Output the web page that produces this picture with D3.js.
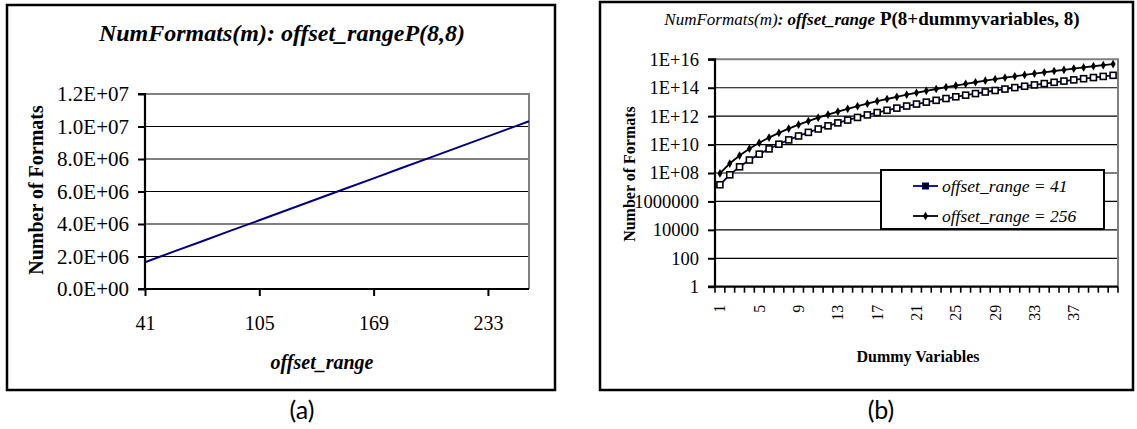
<!DOCTYPE html>
<html><head><meta charset="utf-8">
<script src="https://cdn.jsdelivr.net/npm/d3@7"></script>
<style>
html,body{margin:0;padding:0;background:#fff;}
svg{display:block;}
text{font-family:"Liberation Serif","Times New Roman",serif;fill:#000;}
</style></head>
<body>
<svg id="c" width="1137" height="429"></svg>
<script>
// ---------- Data: chart (a) ----------
const aOffsetRange = [41, 57, 73, 89, 105, 121, 137, 153, 169, 185, 201, 217, 233, 249, 256];
const aNumFormats  = [1.65e6, 2.30e6, 2.94e6, 3.59e6, 4.23e6, 4.88e6, 5.52e6, 6.17e6, 6.81e6, 7.46e6, 8.10e6, 8.75e6, 9.39e6, 10.04e6, 10.32e6];
const aYTicks  = [0, 2e6, 4e6, 6e6, 8e6, 1e7, 1.2e7];
const aYLabels = ["0.0E+00","2.0E+06","4.0E+06","6.0E+06","8.0E+06","1.0E+07","1.2E+07"];
const aXTicks  = [41, 105, 169, 233];

// ---------- Data: chart (b) ----------
const bDummy = d3.range(1, 42); // categories 1..41
const bSeries41 = [1.49e7,7.44e7,2.73e8,8.18e8,2.13e9,4.96e9,1.06e10,2.13e10,4.02e10,7.23e10,
  1.25e11,2.08e11,3.36e11,5.29e11,8.11e11,1.22e12,1.79e12,2.58e12,3.67e12,5.14e12,
  7.10e12,9.68e12,1.30e13,1.74e13,2.30e13,3.00e13,3.89e13,5.00e13,6.38e13,8.08e13,
  1.02e14,1.27e14,1.58e14,1.95e14,2.40e14,2.93e14,3.56e14,4.31e14,5.20e14,6.24e14,7.46e14];
const bSeries256 = [9.29e7,4.64e8,1.70e9,5.11e9,1.33e10,3.10e10,6.64e10,1.33e11,2.51e11,4.52e11,
  7.80e11,1.30e12,2.10e12,3.30e12,5.06e12,7.59e12,1.12e13,1.61e13,2.29e13,3.21e13,
  4.43e13,6.04e13,8.14e13,1.09e14,1.43e14,1.87e14,2.43e14,3.12e14,3.99e14,5.05e14,
  6.35e14,7.94e14,9.86e14,1.22e15,1.50e15,1.83e15,2.22e15,2.69e15,3.25e15,3.89e15,4.65e15];
const bYTicks  = [1, 1e2, 1e4, 1e6, 1e8, 1e10, 1e12, 1e14, 1e16];
const bYLabels = ["1","100","10000","1000000","1E+08","1E+10","1E+12","1E+14","1E+16"];
const bXLabelled = [1,5,9,13,17,21,25,29,33,37];
const bLegend = ["offset_range = 41", "offset_range = 256"];

const svg = d3.select("#c");

// ================= Chart (a) =================
{
  const g = svg.append("g");
  g.append("rect").attr("x",7).attr("y",5).attr("width",548).attr("height",385)
    .attr("fill","#fff").attr("stroke","#000").attr("stroke-width",2.5);

  g.append("text").attr("x",282).attr("y",41).attr("text-anchor","middle")
    .attr("font-size",24).attr("font-weight","bold").attr("font-style","italic")
    .text("NumFormats(m): offset_rangeP(8,8)");

  const x = d3.scaleLinear().domain([41,256]).range([145,529]);
  const y = d3.scaleLinear().domain([0,1.2e7]).range([289,94]);

  // gridlines
  g.selectAll(".ga").data(aYTicks.filter(v=>v>0 && v<1.2e7)).join("line")
    .attr("x1",145).attr("x2",529).attr("y1",d=>y(d)).attr("y2",d=>y(d))
    .attr("stroke","#000").attr("stroke-width",1);
  // plot border top/right gray
  g.append("path").attr("d",`M${x(41)},${y(1.2e7)}H${x(256)}V${y(0)}`)
    .attr("fill","none").attr("stroke","#808080").attr("stroke-width",2);

  // line
  g.append("path").datum(aOffsetRange.map((v,i)=>[v,aNumFormats[i]]))
    .attr("d", d3.line().x(d=>x(d[0])).y(d=>y(d[1])))
    .attr("fill","none").attr("stroke","#000080").attr("stroke-width",2);

  // axes
  const ya = d3.axisLeft(y).tickValues(aYTicks).tickFormat((d,i)=>aYLabels[i]).tickSize(7).tickPadding(9);
  const ga = g.append("g").attr("transform",`translate(${x(41)},0)`).call(ya);
  ga.select(".domain").attr("stroke","#000").attr("stroke-width",2.2).attr("d",`M-7,${y(0)}H0V${y(1.2e7)}H-7`);
  ga.selectAll(".tick line").attr("stroke","#000").attr("stroke-width",2);
  ga.selectAll(".tick text").attr("font-size",21).attr("font-family","Liberation Serif").attr("fill","#000");

  const xa = d3.axisBottom(x).tickValues(aXTicks).tickFormat(d3.format("d")).tickSize(7).tickPadding(20);
  const gx = g.append("g").attr("transform",`translate(0,${y(0)})`).call(xa);
  gx.select(".domain").attr("stroke","#000").attr("stroke-width",2.2).attr("d",`M${x(41)},0H${x(256)}`);
  gx.selectAll(".tick line").attr("stroke","#000").attr("stroke-width",2);
  gx.selectAll(".tick text").attr("font-size",20).attr("font-family","Liberation Serif").attr("fill","#000");

  g.append("text").attr("transform","translate(36,190) rotate(-90)").attr("text-anchor","middle")
    .attr("dominant-baseline","central").attr("font-size",20).attr("font-weight","bold")
    .text("Number of Formats");
  g.append("text").attr("x",322).attr("y",369).attr("text-anchor","middle")
    .attr("font-size",20).attr("font-weight","bold").attr("font-style","italic")
    .text("offset_range");

  g.append("text").attr("x",302).attr("y",419).attr("text-anchor","middle")
    .attr("font-family","Lato").style("font-family","Lato").attr("font-size",25).text("(a)");
}

// ================= Chart (b) =================
{
  const g = svg.append("g");
  g.append("rect").attr("x",600).attr("y",2).attr("width",533).attr("height",388)
    .attr("fill","#fff").attr("stroke","#000").attr("stroke-width",2.5);

  const t = g.append("text").attr("x",872).attr("y",25).attr("text-anchor","middle");
  t.append("tspan").attr("font-size",17).attr("font-style","italic").text("NumFormats(m)");
  t.append("tspan").attr("font-size",17).attr("font-style","italic").attr("font-weight","bold").text(": offset_range");
  t.append("tspan").attr("font-size",19).attr("font-weight","bold").text(" P(8+dummyvariables, 8)");

  const x = d3.scaleBand().domain(bDummy).range([715,1118]);
  const y = d3.scaleLog().domain([1,1e16]).range([286.7,59.3]);
  const cx = d => x(d) + x.bandwidth()/2;

  g.selectAll(".gb").data(bYTicks.filter(v=>v>1 && v<1e16)).join("line")
    .attr("x1",715).attr("x2",1118).attr("y1",d=>y(d)).attr("y2",d=>y(d))
    .attr("stroke","#000").attr("stroke-width",1.2);
  g.append("path").attr("d",`M715,${y(1e16)}H1118V${y(1)}`)
    .attr("fill","none").attr("stroke","#808080").attr("stroke-width",2);

  const line = d3.line().x(d=>cx(d[0])).y(d=>y(d[1]));
  const s41 = bDummy.map((d,i)=>[d,bSeries41[i]]);
  const s256 = bDummy.map((d,i)=>[d,bSeries256[i]]);
  g.append("path").datum(s41).attr("d",line).attr("fill","none").attr("stroke","#000080").attr("stroke-width",1.8);
  g.append("path").datum(s256).attr("d",line).attr("fill","none").attr("stroke","#000").attr("stroke-width",1.8);

  g.selectAll(".m41").data(s41).join("rect")
    .attr("x",d=>cx(d[0])-3).attr("y",d=>y(d[1])-3).attr("width",6).attr("height",6)
    .attr("fill","#fff").attr("stroke","#000").attr("stroke-width",1.6);
  const diamond = d3.symbol().type(d3.symbolDiamond).size(22);
  g.selectAll(".m256").data(s256).join("path")
    .attr("transform",d=>`translate(${cx(d[0])},${y(d[1])})`).attr("d",diamond).attr("fill","#000");

  // y axis
  const ya = d3.axisLeft(y).tickValues(bYTicks).tickFormat((d,i)=>bYLabels[i]).tickSize(7).tickPadding(9);
  const ga = g.append("g").attr("transform","translate(715,0)").call(ya);
  ga.select(".domain").attr("stroke","#000").attr("stroke-width",2.2).attr("d",`M-7,${y(1)}H0V${y(1e16)}H-7`);
  ga.selectAll(".tick line").attr("stroke","#000").attr("stroke-width",2);
  ga.selectAll(".tick text").attr("font-size",18.5).attr("font-family","Liberation Serif").attr("fill","#000");

  // x axis: category boundary ticks
  g.append("line").attr("x1",715).attr("x2",1118).attr("y1",y(1)).attr("y2",y(1))
    .attr("stroke","#000").attr("stroke-width",2.2);
  const bounds = bDummy.map(d=>x(d)).concat([x(41)+x.bandwidth()]);
  g.selectAll(".xt").data(bounds).join("line")
    .attr("x1",d=>d).attr("x2",d=>d).attr("y1",y(1)).attr("y2",y(1)+6)
    .attr("stroke","#000").attr("stroke-width",1.6);
  g.selectAll(".xl").data(bXLabelled).join("text")
    .attr("transform",d=>`translate(${cx(d)},${y(1)+18}) rotate(-90)`)
    .attr("text-anchor","end").attr("dominant-baseline","central")
    .attr("font-size",16).text(d=>d);

  g.append("text").attr("transform","translate(629,174) rotate(-90)").attr("text-anchor","middle")
    .attr("dominant-baseline","central").attr("font-size",16).attr("font-weight","bold")
    .text("Number of Formats");
  g.append("text").attr("x",918).attr("y",362).attr("text-anchor","middle")
    .attr("font-size",16).attr("font-weight","bold").text("Dummy Variables");

  // legend
  const lg = g.append("g");
  lg.append("rect").attr("x",881).attr("y",170).attr("width",223).attr("height",59)
    .attr("fill","#fff").attr("stroke","#000").attr("stroke-width",2);
  const ly = [186, 216];
  lg.append("line").attr("x1",913).attr("x2",938).attr("y1",ly[0]).attr("y2",ly[0]).attr("stroke","#000080").attr("stroke-width",1.8);
  lg.append("rect").attr("x",922.5).attr("y",ly[0]-3).attr("width",6).attr("height",6).attr("fill","#000").attr("stroke","#000080");
  lg.append("line").attr("x1",913).attr("x2",938).attr("y1",ly[1]).attr("y2",ly[1]).attr("stroke","#000").attr("stroke-width",1.8);
  lg.append("path").attr("transform",`translate(925.5,${ly[1]})`).attr("d",diamond).attr("fill","#000");
  lg.selectAll(".lt").data(bLegend).join("text")
    .attr("x",942).attr("y",(d,i)=>ly[i]).attr("dominant-baseline","central")
    .attr("font-size",17.5).attr("font-style","italic").text(d=>d);

  g.append("text").attr("x",881).attr("y",419).attr("text-anchor","middle")
    .style("font-family","Lato").attr("font-size",25).text("(b)");
}
</script>
</body></html>
